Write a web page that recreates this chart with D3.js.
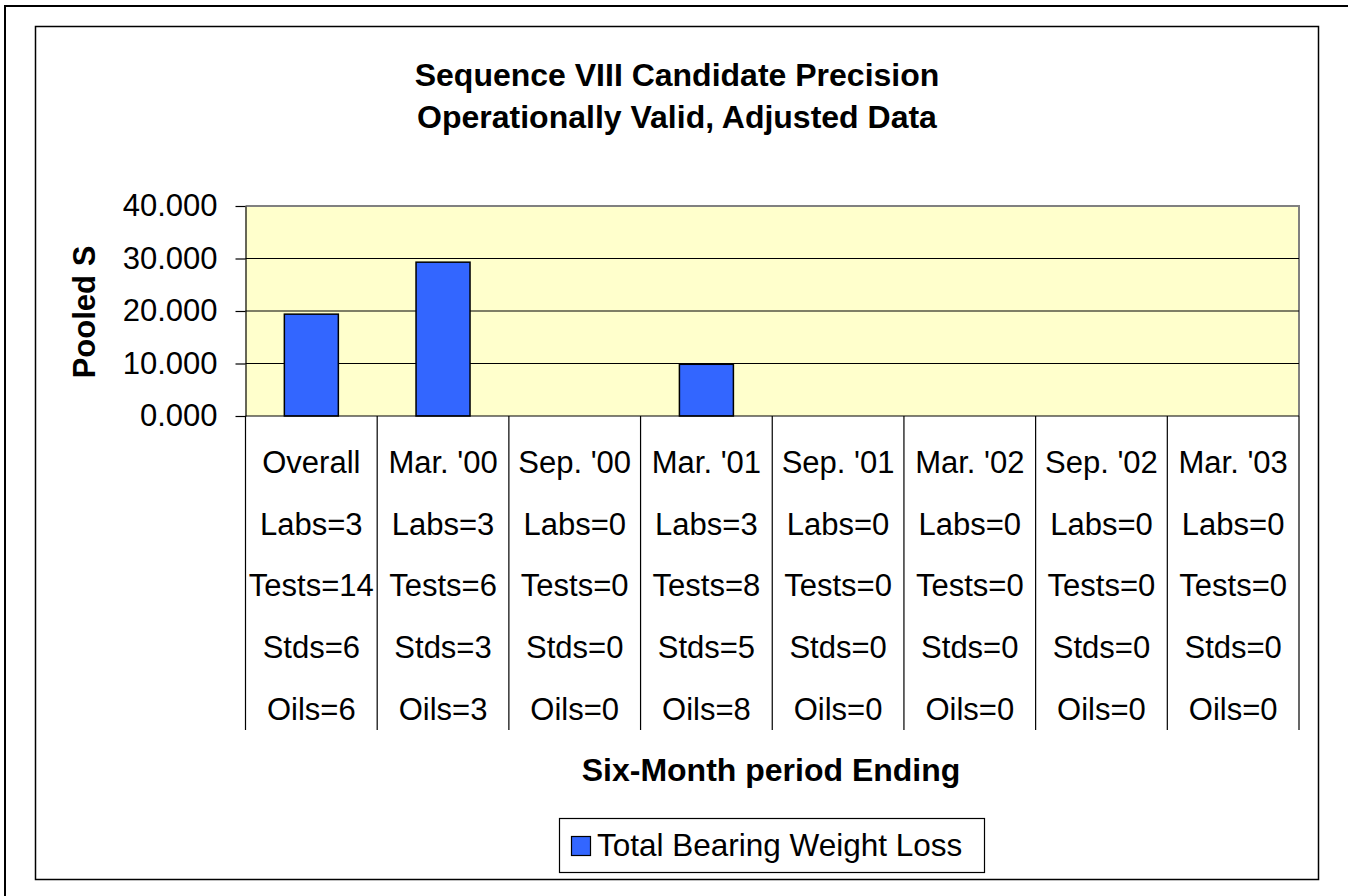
<!DOCTYPE html>
<html>
<head>
<meta charset="utf-8">
<script src="https://cdn.jsdelivr.net/npm/d3@7"></script>
<style>
  html, body { margin: 0; padding: 0; background: #fff; }
  svg { display: block; }
  text { font-family: Arial, "Liberation Sans", sans-serif; fill: #000; }
</style>
</head>
<body>
<svg id="chart" width="1348" height="896"></svg>
<script>
const titleLines = ["Sequence VIII Candidate Precision", "Operationally Valid, Adjusted Data"];
const categories = ["Overall", "Mar. '00", "Sep. '00", "Mar. '01", "Sep. '01", "Mar. '02", "Sep. '02", "Mar. '03"];
const pooledS = [19.4, 29.3, 0, 9.85, 0, 0, 0, 0];
const labs  = [3, 3, 0, 3, 0, 0, 0, 0];
const tests = [14, 6, 0, 8, 0, 0, 0, 0];
const stds  = [6, 3, 0, 5, 0, 0, 0, 0];
const oils  = [6, 3, 0, 8, 0, 0, 0, 0];
const yTicks = [0, 10, 20, 30, 40];
const yTitle = "Pooled S";
const xTitle = "Six-Month period Ending";
const seriesName = "Total Bearing Weight Loss";

const svg = d3.select("#chart");

// borders
svg.append("rect").attr("x", 5).attr("y", 6).attr("width", 1400).attr("height", 1000)
  .attr("fill", "none").attr("stroke", "#000").attr("stroke-width", 2);
svg.append("rect").attr("x", 35.5).attr("y", 26.5).attr("width", 1283).attr("height", 853)
  .attr("fill", "#fff").attr("stroke", "#000").attr("stroke-width", 1.5);

const L = 245.5, R = 1299, T = 206, B = 416;
const x = d3.scaleBand().domain(categories).range([L, R]).paddingInner(0).paddingOuter(0);
const y = d3.scaleLinear().domain([0, 40]).range([B, T]);

// plot area
svg.append("rect").attr("x", L).attr("y", T).attr("width", R - L).attr("height", B - T)
  .attr("fill", "#FFFFCC");
svg.append("path").attr("d", `M${L},${T}H${R}V${B}`).attr("fill", "none")
  .attr("stroke", "#808080").attr("stroke-width", 2);

// gridlines
svg.append("g").selectAll("line").data(yTicks.filter(d => d > 0 && d < 40)).join("line")
  .attr("x1", L).attr("x2", R).attr("y1", d => y(d)).attr("y2", d => y(d))
  .attr("stroke", "#000").attr("stroke-width", 1.2);

// bars
const barFrac = 0.41;
const data = categories.map((c, i) => ({ c, v: pooledS[i] }));
svg.append("g").selectAll("rect").data(data.filter(d => d.v > 0)).join("rect")
  .attr("x", d => x(d.c) + x.bandwidth() * (1 - barFrac) / 2)
  .attr("width", x.bandwidth() * barFrac)
  .attr("y", d => y(d.v))
  .attr("height", d => y(0) - y(d.v))
  .attr("fill", "#3366FF").attr("stroke", "#000").attr("stroke-width", 1.5);

// y axis
const yAxis = d3.axisLeft(y).tickValues(yTicks).tickFormat(d3.format(".3f"))
  .tickSize(10).tickPadding(18).tickSizeOuter(0);
const gy = svg.append("g").attr("transform", `translate(${L},0)`).call(yAxis);
gy.select(".domain").attr("stroke", "#000").attr("stroke-width", 1.2);
gy.selectAll(".tick line").attr("stroke", "#000").attr("stroke-width", 1.2);
gy.selectAll(".tick text").attr("font-size", 31).attr("font-family", "Arial, 'Liberation Sans', sans-serif").attr("fill", "#000");

// x axis baseline and category dividers
svg.append("line").attr("x1", L).attr("x2", R).attr("y1", B).attr("y2", B)
  .attr("stroke", "#000").attr("stroke-width", 1.2);
const dividers = categories.map(c => x(c)).concat([x(categories[categories.length - 1]) + x.bandwidth()]);
svg.append("g").selectAll("line").data(dividers).join("line")
  .attr("x1", d => d).attr("x2", d => d).attr("y1", B).attr("y2", 730)
  .attr("stroke", "#000").attr("stroke-width", 1.2);

// category labels
const rowBase = [473, 535, 596, 658, 720];
const gl = svg.append("g").attr("font-size", 31).attr("text-anchor", "middle");
categories.forEach((c, i) => {
  const lines = [c, `Labs=${labs[i]}`, `Tests=${tests[i]}`, `Stds=${stds[i]}`, `Oils=${oils[i]}`];
  const cx = x(c) + x.bandwidth() / 2;
  lines.forEach((t, j) => {
    gl.append("text").attr("x", cx).attr("y", rowBase[j]).text(t);
  });
});

// titles
const gt = svg.append("g").attr("font-size", 32).attr("font-weight", "bold").attr("text-anchor", "middle");
gt.append("text").attr("x", 677).attr("y", 86).text(titleLines[0]);
gt.append("text").attr("x", 677).attr("y", 128).text(titleLines[1]);

svg.append("text").attr("transform", "translate(95,312) rotate(-90)")
  .attr("text-anchor", "middle").attr("font-size", 31).attr("font-weight", "bold").text(yTitle);

svg.append("text").attr("x", 771).attr("y", 781).attr("text-anchor", "middle")
  .attr("font-size", 32).attr("font-weight", "bold").text(xTitle);

// legend
svg.append("rect").attr("x", 559.5).attr("y", 818.5).attr("width", 425).attr("height", 54)
  .attr("fill", "#fff").attr("stroke", "#000").attr("stroke-width", 1.2);
svg.append("rect").attr("x", 571.5).attr("y", 836.5).attr("width", 19).attr("height", 19)
  .attr("fill", "#3366FF").attr("stroke", "#000").attr("stroke-width", 1.2);
svg.append("text").attr("x", 597).attr("y", 856).attr("font-size", 31.5).text(seriesName);
</script>
</body>
</html>
